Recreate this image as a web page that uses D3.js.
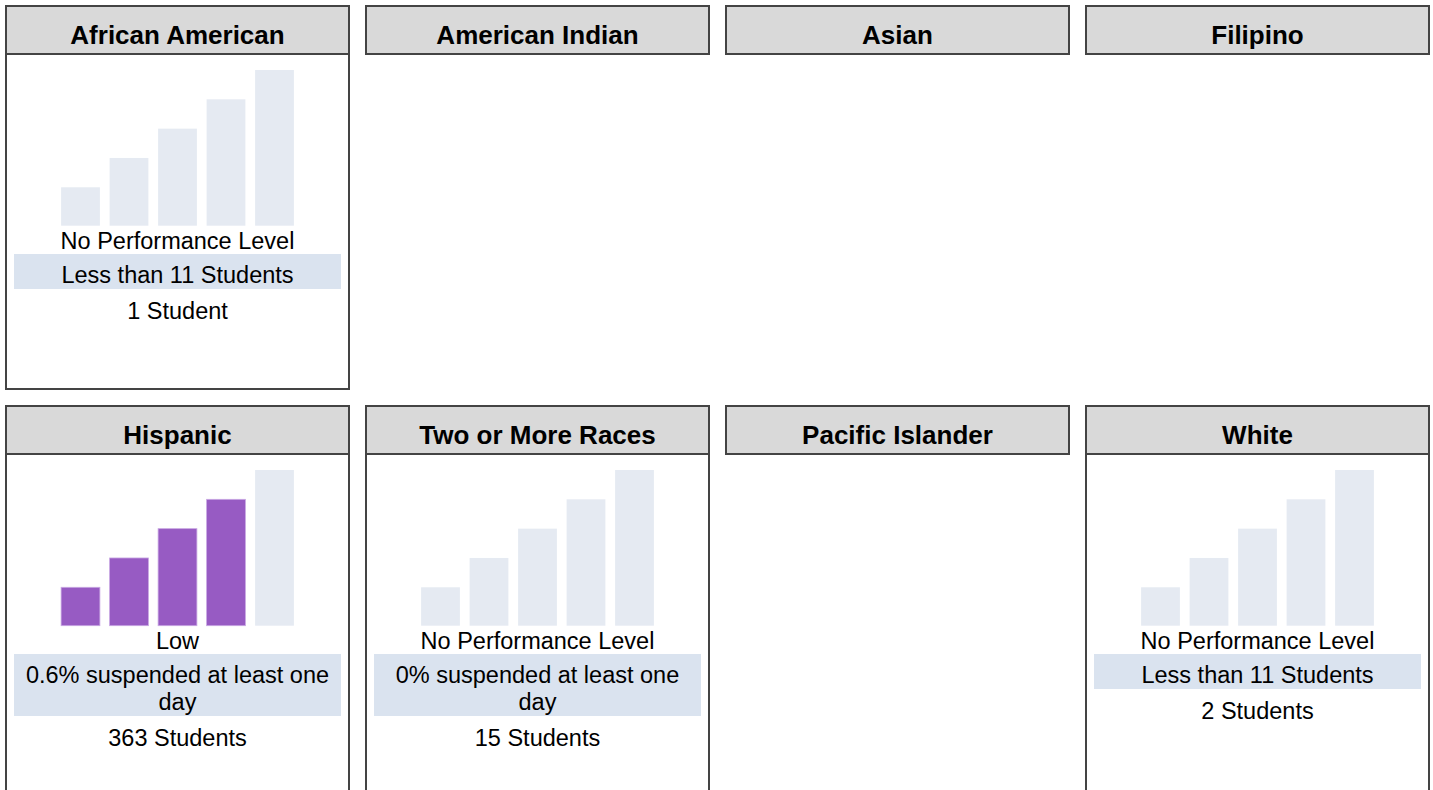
<!DOCTYPE html>
<html>
<head>
<meta charset="utf-8">
<script src="https://cdnjs.cloudflare.com/ajax/libs/d3/7.8.5/d3.min.js"></script>
<style>
  body { margin: 0; background: #fff; overflow: hidden; }
  svg text { font-family: "Liberation Sans", Arial, sans-serif; fill: #000; }
  .head-label { font-weight: bold; font-size: 26px; }
  .body-label { font-size: 23.5px; }
</style>
</head>
<body>
<div id="chart"></div>
<script>
// groups in panel order (4 per row)
var groups = ["African American", "American Indian", "Asian", "Filipino",
  "Hispanic", "Two or More Races", "Pacific Islander", "White"];
// number of filled bars out of 5 (null = no data shown)
var filled = [0, null, null, null, 4, 0, null, 0];
var statusLabels = ["No Performance Level", null, null, null, "Low", "No Performance Level", null, "No Performance Level"];
var rateLabels = ["Less than 11 Students", null, null, null, "0.6% suspended at least one day", "0% suspended at least one day", null, "Less than 11 Students"];
var studentCounts = [1, null, null, null, 363, 15, null, 2];
var levels = [1, 2, 3, 4, 5];

var colors = {border: "#444444", head: "#d9d9d9", empty: "#e5eaf2", fill: "#975bc3", band: "#dae3ef"};

var W = 1433, H = 790;
var svg = d3.select("#chart").append("svg").attr("width", W).attr("height", H);

var panelW = 343, panelH = 383, headH = 48;
var col = d3.scaleBand().domain([0, 1, 2, 3]).range([6, 6 + 360 * 4 - 17]).paddingInner(17 / 360);
var row = d3.scaleBand().domain([0, 1]).range([6, 6 + 400 * 2 - 17]).paddingInner(17 / 400);

// bar scales (relative to panel)
var bx = d3.scaleBand().domain(levels)
  .range([panelW / 2 - 116.4, panelW / 2 + 116.4]).paddingInner(0.2);
var by = d3.scaleLinear().domain([-0.31, 5]).range([219.7, 64]);

function wrap(str, maxW, fontSize) {
  // measure with a hidden text
  var probe = svg.append("text").attr("class", "body-label").style("font-size", fontSize + "px");
  var words = str.split(" "), lines = [], cur = "";
  words.forEach(function(w) {
    var test = cur ? cur + " " + w : w;
    probe.text(test);
    if (probe.node().getComputedTextLength() > maxW && cur) {
      lines.push(cur);
      cur = w;
    } else {
      cur = test;
    }
  });
  if (cur) lines.push(cur);
  probe.remove();
  return lines;
}

groups.forEach(function(name, i) {
  var r = Math.floor(i / 4);
  var x0 = col(i % 4), y0 = row(r);
  var g = svg.append("g").attr("transform", "translate(" + x0 + "," + y0 + ")");
  var hasData = filled[i] !== null;

  if (hasData) {
    // second row runs off the bottom of the page
    g.append("rect")
      .attr("width", panelW).attr("height", r === 0 ? panelH : panelH + 40)
      .attr("fill", "#fff").attr("stroke", colors.border).attr("stroke-width", 2);
  }

  g.append("rect")
    .attr("width", panelW).attr("height", headH)
    .attr("fill", colors.head).attr("stroke", colors.border).attr("stroke-width", 2);

  g.append("text")
    .attr("class", "head-label")
    .attr("x", panelW / 2).attr("y", 37.5)
    .attr("text-anchor", "middle")
    .text(name);

  if (!hasData) return;

  g.selectAll(".bar").data(levels).enter().append("rect")
    .attr("class", "bar")
    .attr("x", function(d) { return bx(d); })
    .attr("width", bx.bandwidth())
    .attr("y", function(d) { return by(d); })
    .attr("height", function(d) { return by(-0.31) - by(d); })
    .attr("fill", function(d) { return d <= filled[i] ? colors.fill : colors.empty; })
    .attr("stroke", function(d) { return d <= filled[i] ? "#c9a8e3" : "none"; })
    .attr("stroke-width", 0.8);

  g.append("text")
    .attr("class", "body-label")
    .attr("x", panelW / 2).attr("y", 242.5)
    .attr("text-anchor", "middle")
    .text(statusLabels[i]);

  var lines = wrap(rateLabels[i], 318, 23.5);
  var bandTop = 248, lineH = 27;
  var bandH = lines.length * lineH + 8;
  g.append("rect")
    .attr("x", 8).attr("y", bandTop)
    .attr("width", panelW - 16).attr("height", bandH)
    .attr("fill", colors.band);

  lines.forEach(function(l, k) {
    g.append("text")
      .attr("class", "body-label")
      .attr("x", panelW / 2).attr("y", bandTop + 29 + k * lineH)
      .attr("text-anchor", "middle")
      .text(l);
  });

  g.append("text")
    .attr("class", "body-label")
    .attr("x", panelW / 2).attr("y", bandTop + bandH + 30)
    .attr("text-anchor", "middle")
    .text(studentCounts[i] + (studentCounts[i] === 1 ? " Student" : " Students"));
});
</script>
</body>
</html>
